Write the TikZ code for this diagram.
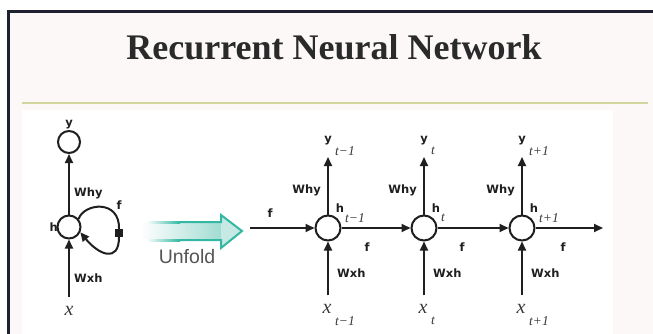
\documentclass[tikz,border=0pt]{standalone}
\usepackage{fontspec}
\setmainfont{Liberation Serif}
\newfontfamily\labelfont{DejaVu Sans}
\newfontfamily\captionfont{Liberation Sans}
\usetikzlibrary{arrows.meta}

\definecolor{ink}{HTML}{1F1F1F}
\definecolor{subink}{HTML}{3A3A3A}
\definecolor{framecol}{HTML}{1E2230}
\definecolor{paper}{HTML}{FCF8F8}
\definecolor{rulecol}{HTML}{D3D59E}
\definecolor{titleink}{HTML}{2A2A2A}
\definecolor{tealline}{HTML}{33B8A4}
\definecolor{tealfill}{HTML}{A2DCD2}
\definecolor{tealhead}{HTML}{C6EAE3}
\definecolor{captionink}{HTML}{555555}

\tikzset{
  unit/.style={circle, draw=ink, line width=2pt, minimum size=25pt, inner sep=0pt},
  conn/.style={-{Triangle[length=9pt,width=8pt]}, line width=2pt, draw=ink},
  wire/.style={line width=2pt, draw=ink},
  lbl/.style={font=\labelfont\bfseries\fontsize{11.5}{11.5}\selectfont, text=ink, inner sep=0pt},
  subl/.style={font=\itshape\fontsize{13.5}{13.5}\selectfont, text=subink, inner sep=0pt, anchor=west},
  xin/.style={font=\itshape\fontsize{20}{20}\selectfont, text=subink, inner sep=0pt, outer ysep=9pt},
}

\begin{document}
\begin{tikzpicture}[x=1pt,y=-1pt]
\useasboundingbox (0,0) rectangle (653,334);
% page, panel and frame
\fill[white] (0,0) rectangle (653,334);
\fill[paper] (8,11) rectangle (653,334);
\fill[white] (22,110) rectangle (613,334);
\draw[framecol, line width=3pt] (8.5,334) -- (8.5,11.5) -- (653,11.5);

% title and rule
\node[font=\bfseries\fontsize{36}{36}\selectfont, text=titleink, anchor=base] (title) at (334,60) {Recurrent Neural Network};
\draw[rulecol, line width=2pt] (22,103) -- (648,103);

% ---- folded network ----
\node[unit, minimum size=22pt] (yL) at (69,142) {};
\node[unit, minimum size=23pt] (hL) at (69,227) {};
\node[lbl] (yLl) at (69,125) {y};
\node[lbl, anchor=east] (hLl) at (58,227) {h};
\draw[conn] (hL) -- (yL);
\node[lbl, anchor=west] (whyL) at (74,193) {Why};
\node[xin] (xL) at (69,311) {x};
\draw[conn] (xL) -- (hL);
\node[lbl, anchor=west] (wxhL) at (74,278) {Wxh};
% recurrent loop through the delay square
\node[fill=ink, minimum size=7.5pt, inner sep=0pt] (sq) at (119,233) {};
\node[lbl] (fL) at (119,205) {f};
\draw[wire] (hL.40) .. controls (84,203) and (120,199) .. (sq.north);
\draw[conn] (sq.south) .. controls (119,264) and (98,254) .. (hL.-25);

% ---- unfold arrow ----
\shade[left color=white, right color=tealfill] (140,222) rectangle (221,240);
\fill[tealhead] (221,215) -- (242,231) -- (221,248) -- cycle;
\shade[left color=white, right color=tealline] (146,221) rectangle (180,223);
\shade[left color=white, right color=tealline] (146,239) rectangle (180,241);
\draw[tealline, line width=2pt, line join=miter]
  (180,222) -- (221,222) -- (221,215) -- (242,231) -- (221,248) -- (221,240) -- (180,240);
\node[font=\captionfont\fontsize{19.5}{19.5}\selectfont, text=captionink] (unfold) at (187,257) {Unfold};

% ---- unfolded network ----
\coordinate (in0) at (250,228);
\coordinate (out0) at (603,228);
\foreach \i/\cx/\s in {1/328/t−1, 2/424/t, 3/522/t+1} {
  \node[unit] (c\i) at (\cx,228) {};
  % output
  \coordinate (top\i) at (\cx,157);
  \draw[conn] (c\i) -- (top\i);
  \node[lbl] (y\i) at (\cx,141) {y};
  \node[subl] (ys\i) at (\cx+7,151) {\s};
  \node[lbl, anchor=east] (why\i) at (\cx-7,190) {Why};
  % hidden state
  \node[lbl] (h\i) at (\cx+12,208) {h};
  \node[subl] (hs\i) at (\cx+17,218) {\s};
  % input
  \node[xin] (x\i) at (\cx-1,309) {x};
  \node[subl] (xs\i) at (\cx+7,321) {\s};
  \draw[conn] (x\i.north -| c\i) -- (c\i);
  \node[lbl, anchor=west] (wxh\i) at (\cx+9,273) {Wxh};
}
\draw[conn] (in0) -- (c1);
\draw[conn] (c1) -- (c2);
\draw[conn] (c2) -- (c3);
\draw[conn] (c3) -- (out0);
\node[lbl] (f0) at (270,213) {f};
\node[lbl] (f1) at (367,247) {f};
\node[lbl] (f2) at (462,247) {f};
\node[lbl] (f3) at (563,247) {f};
\end{tikzpicture}
\end{document}
